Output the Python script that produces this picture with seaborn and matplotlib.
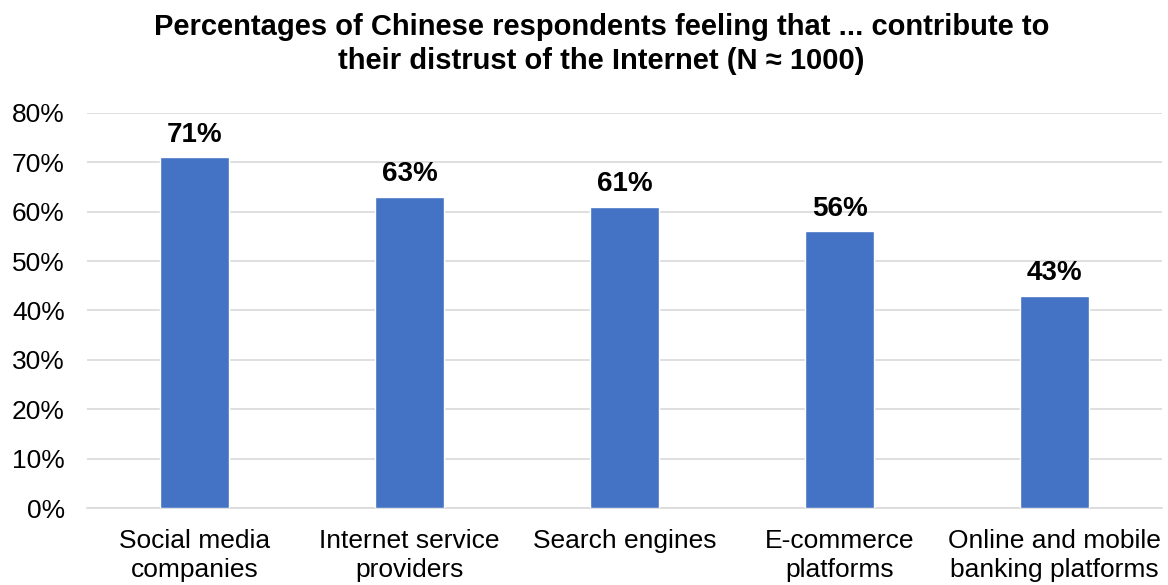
import matplotlib
matplotlib.use("Agg")
import matplotlib.pyplot as plt
import seaborn as sns
import pandas as pd

categories = ["Social media\ncompanies", "Internet service\nproviders", "Search engines",
              "E-commerce\nplatforms", "Online and mobile\nbanking platforms"]
values = [71, 63, 61, 56, 43]
y_ticks = [0, 10, 20, 30, 40, 50, 60, 70, 80]

sns.set_theme(style="white")
plt.rcParams["font.family"] = ["Liberation Sans", "DejaVu Sans"]

df = pd.DataFrame({"category": categories, "value": values})

fig = plt.figure(figsize=(11.68, 5.85), dpi=100)
ax = fig.add_axes([0.0745, 0.1316, 0.9205, 0.6754])

sns.barplot(data=df, x="category", y="value", color="#4472C4", saturation=1,
            width=0.32, ax=ax, zorder=3)

ax.set_ylim(0, 80)
ax.set_yticks(y_ticks)
ax.set_yticklabels([f"{t}%" for t in y_ticks], fontsize=19, color="#000000")
ax.tick_params(axis="x", labelsize=19, colors="#000000", length=0, pad=15)
ax.tick_params(axis="y", length=0, pad=16)
for lbl in ax.get_xticklabels():
    lbl.set_linespacing(1.25)
ax.set_xlabel("")
ax.set_ylabel("")
ax.set_xlim(-0.5, len(categories) - 0.5)

ax.yaxis.grid(True, color="#D9D9D9", linewidth=1.2, zorder=0)
for side in ["left", "right", "top"]:
    ax.spines[side].set_visible(False)
ax.spines["bottom"].set_color("#D9D9D9")
ax.spines["bottom"].set_linewidth(1.2)

for i, v in enumerate(values):
    ax.annotate(f"{v}%", (i, v), xytext=(0, 7), textcoords="offset points",
                ha="center", va="bottom", fontsize=20, fontweight="bold", color="#000000")

fig.text(0.515, 0.978, "Percentages of Chinese respondents feeling that ... contribute to\n"
         "their distrust of the Internet (N \u2248 1000)",
         ha="center", va="top", fontsize=21, fontweight="bold", color="#000000",
         linespacing=1.3)

fig.savefig("out.png", dpi=100)
